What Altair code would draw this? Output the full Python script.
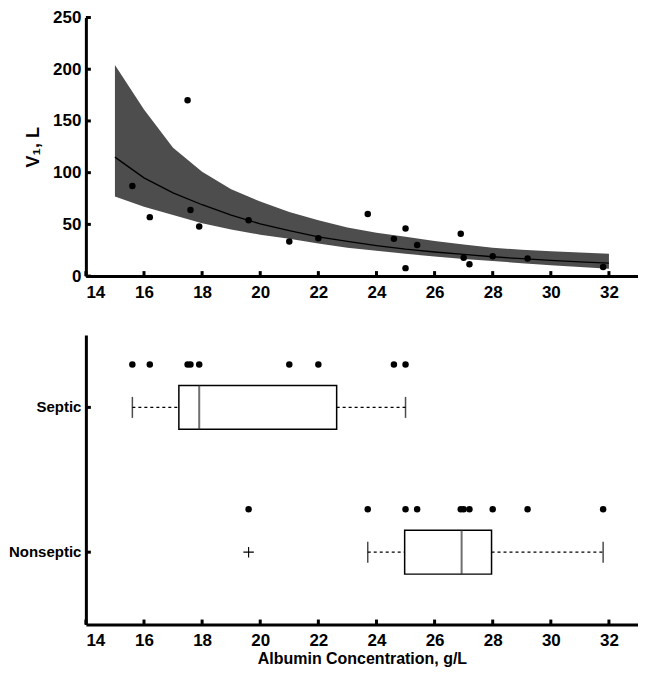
import altair as alt
import pandas as pd

# ---- data ----
curve_x = [15, 16, 17, 18, 19, 20, 21, 22, 23, 24, 25, 26, 27, 28, 29, 30, 31, 32]
band_upper = [204, 161, 124, 101, 84, 72, 62, 54, 47, 42, 38, 34, 30.5, 27.5, 25.5, 24, 22.8, 21.7]
fit_line = [115, 95, 80.5, 69, 59, 50.5, 44, 38, 33.5, 29.5, 26, 23.3, 21, 18.7, 16.8, 15.2, 13.8, 12.6]
band_lower = [77, 67, 59, 51, 45, 40, 36, 31.5, 27.5, 24.5, 21.5, 19, 16.5, 14.5, 12.5, 10.5, 8.8, 7]

albumin = [15.6, 16.2, 17.5, 17.6, 17.9, 21.0, 22.0, 24.6, 25.0,
           19.6, 23.7, 25.0, 25.4, 26.9, 27.0, 27.2, 28.0, 29.2, 31.8]
v1 = [87, 57, 170, 64, 48, 33.5, 36.5, 36, 46,
      54, 60, 7.7, 30, 41, 17.7, 11.5, 19.2, 17, 8.7]
group = ["Septic"] * 9 + ["Nonseptic"] * 10

box_groups = ["Septic", "Nonseptic"]
box_q1 = [17.2, 24.97]
box_median = [17.9, 26.93]
box_q3 = [22.63, 27.96]
box_lo = [15.6, 23.7]
box_hi = [25.0, 31.8]
outlier_group = ["Nonseptic"]
outlier_x = [19.6]

x_ticks = [14, 16, 18, 20, 22, 24, 26, 28, 30, 32]
y_ticks = [0, 50, 100, 150, 200, 250]

# ---- tables ----
curve = pd.DataFrame({"x": curve_x, "upper": band_upper, "fit": fit_line, "lower": band_lower})
pts = pd.DataFrame({"albumin": albumin, "v1": v1, "group": group})
box = pd.DataFrame({"group": box_groups, "q1": box_q1, "med": box_median, "q3": box_q3,
                    "lo": box_lo, "hi": box_hi})
outl = pd.DataFrame({"group": outlier_group, "x": outlier_x})
xt = pd.DataFrame({"t": x_ticks})
yt = pd.DataFrame({"t": y_ticks})
gt = pd.DataFrame({"group": box_groups})

W = 553
H1 = 259
H2 = 290
FONT = "Liberation Sans"

xscale = alt.Scale(domain=[14, 33], nice=False, zero=False)
yscale = alt.Scale(domain=[0, 250], nice=False)
gscale = alt.Scale(domain=box_groups, paddingInner=0, paddingOuter=0)

xaxis = alt.Axis(values=x_ticks, ticks=False, labelPadding=8, grid=False)
yaxis = alt.Axis(values=y_ticks, ticks=False, labelPadding=5, grid=False, titlePadding=10)
gaxis = alt.Axis(ticks=False, labelPadding=5, grid=False, labelAngle=0, labelFontSize=15)


def XT(field):
    return alt.X(field, scale=xscale, axis=xaxis, title=None)


def XB(field):
    return alt.X(field, scale=xscale, axis=xaxis, title="Albumin Concentration, g/L")


def YT(field):
    return alt.Y(field, scale=yscale, axis=yaxis, title="V₁, L")


def YG(field):
    return alt.Y(field, scale=gscale, axis=gaxis, title=None)


# ---- top panel ----
band = alt.Chart(curve).mark_area(color="#4d4d4d", opacity=1).encode(
    x=XT("x:Q"), y=YT("lower:Q"), y2="upper:Q",
)
line = alt.Chart(curve).mark_line(color="black", strokeWidth=1.3).encode(
    x=XT("x:Q"), y=YT("fit:Q"),
)
dots = alt.Chart(pts).mark_circle(color="black", opacity=1, size=42).encode(
    x=XT("albumin:Q"), y=YT("v1:Q"),
)
xtick_top = alt.Chart(xt).mark_rule(color="black", strokeWidth=3).encode(
    x=XT("t:Q"), y=alt.value(H1), y2=alt.value(H1 - 5),
)
ytick_top = alt.Chart(yt).mark_rule(color="black", strokeWidth=3).encode(
    y=YT("t:Q"), x=alt.value(0), x2=alt.value(5),
)
top = alt.layer(band, line, dots, xtick_top, ytick_top).properties(width=W, height=H1)

# ---- bottom panel ----
whisk_lo = alt.Chart(box).mark_rule(color="black", strokeWidth=1.2, strokeDash=[3, 3]).encode(
    x=XB("lo:Q"), x2="q1:Q", y=YG("group:N"),
)
whisk_hi = alt.Chart(box).mark_rule(color="black", strokeWidth=1.2, strokeDash=[3, 3]).encode(
    x=XB("q3:Q"), x2="hi:Q", y=YG("group:N"),
)
boxes = alt.Chart(box).mark_bar(size=44, fill="white", stroke="black", strokeWidth=1.5).encode(
    x=XB("q1:Q"), x2="q3:Q", y=YG("group:N"),
)
medians = alt.Chart(box).mark_tick(size=44, thickness=2, color="#333333").encode(
    x=XB("med:Q"), y=YG("group:N"),
)
caps_lo = alt.Chart(box).mark_tick(size=21, thickness=1.5, color="black").encode(
    x=XB("lo:Q"), y=YG("group:N"),
)
caps_hi = alt.Chart(box).mark_tick(size=21, thickness=1.5, color="black").encode(
    x=XB("hi:Q"), y=YG("group:N"),
)
plus = alt.Chart(outl).mark_point(shape="M-1,0L1,0M0,-1L0,1", filled=False, color="black",
                                  strokeWidth=1.1, size=110, opacity=1).encode(
    x=XB("x:Q"), y=YG("group:N"),
)
gdots = alt.Chart(pts).mark_circle(color="black", opacity=1, size=42, yOffset=-43).encode(
    x=XB("albumin:Q"), y=YG("group:N"),
)
xtick_bot = alt.Chart(xt).mark_rule(color="black", strokeWidth=3).encode(
    x=XB("t:Q"), y=alt.value(H2), y2=alt.value(H2 - 5),
)
ytick_bot = alt.Chart(gt).mark_rule(color="black", strokeWidth=3).encode(
    y=YG("group:N"), x=alt.value(0), x2=alt.value(5),
)
bottom = alt.layer(whisk_lo, whisk_hi, boxes, medians, caps_lo, caps_hi, plus, gdots,
                   xtick_bot, ytick_bot).properties(width=W, height=H2)

chart = alt.vconcat(top, bottom, spacing=35).properties(
    padding={"left": 0, "top": 0, "right": 0, "bottom": 0}
).configure_view(stroke=None).configure_axis(
    domainColor="black", domainWidth=3, labelFont=FONT, labelFontWeight="bold",
    labelFontSize=17, labelColor="black", titleFont=FONT, titleFontWeight="bold",
    titleFontSize=18, titleColor="black"
).configure_axisX(titlePadding=2, titleFontSize=16)

chart.save("out.html", embed_options={"renderer": "svg", "actions": False})
